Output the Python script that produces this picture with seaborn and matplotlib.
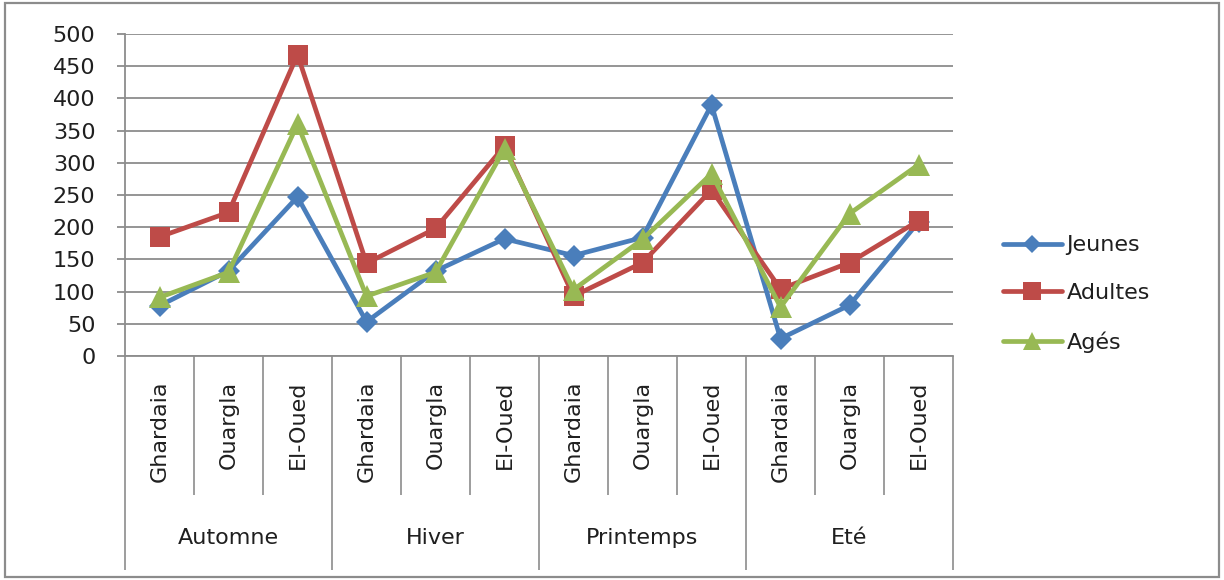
import matplotlib
matplotlib.use("Agg")
import matplotlib.pyplot as plt
from matplotlib.patches import Rectangle
import numpy as np
import pandas as pd
import seaborn as sns

# Data: counts per season and city
seasons = ["Automne", "Hiver", "Printemps", "Eté"]
cities = ["Ghardaia", "Ouargla", "El-Oued"]
jeunes = [78, 132, 247, 53, 132, 182, 156, 184, 390, 27, 79, 208]
adultes = [185, 223, 468, 144, 198, 326, 93, 145, 258, 104, 145, 210]
ages = [91, 130, 360, 93, 130, 322, 103, 181, 283, 76, 221, 297]
series_names = ["Jeunes", "Adultes", "Agés"]
y_ticks = list(range(0, 501, 50))

series_values = {"Jeunes": jeunes, "Adultes": adultes, "Agés": ages}
city_labels = [c for _ in seasons for c in cities]
season_of_point = [s for s in seasons for _ in cities]

rows = []
for name in series_names:
    for i, v in enumerate(series_values[name]):
        rows.append({"pos": i, "valeur": v, "groupe": name,
                     "saison": season_of_point[i], "ville": city_labels[i]})
df = pd.DataFrame(rows)

sns.set_style("white")
plt.rcParams["font.family"] = ["DejaVu Sans"]

W, H = 1224, 580
FS = 16
fig = plt.figure(figsize=(W / 100, H / 100), dpi=100)
fig.patch.set_facecolor("white")

left, right, top, bottom = 125, 953, 34, 356
ax = fig.add_axes([left / W, 1 - bottom / H, (right - left) / W, (bottom - top) / H])

styles = {
    "Jeunes": dict(color="#4A7EBB", marker="D", markersize=11),
    "Adultes": dict(color="#BE4B48", marker="s", markersize=15),
    "Agés": dict(color="#98B954", marker="^", markersize=16),
}
for name in series_names:
    st = styles[name]
    sns.lineplot(data=df[df["groupe"] == name], x="pos", y="valeur", ax=ax,
                 color=st["color"], marker=st["marker"], markersize=st["markersize"],
                 markeredgewidth=0, linewidth=3.4, legend=False, label=name,
                 zorder=3)

grid_color = "#8C8C8C"
text_color = "#1f1f1f"
ax.set_xlim(-0.5, len(city_labels) - 0.5)
ax.set_ylim(0, 500)
ax.set_yticks(y_ticks)
ax.set_yticklabels([str(t) for t in y_ticks], fontsize=FS, color=text_color)
ax.yaxis.grid(True, color=grid_color, linewidth=1.3)
ax.set_axisbelow(True)
ax.tick_params(axis="y", length=5.8, width=1.3, color=grid_color, pad=15.5, left=True)

ax.set_xticks(range(len(city_labels)))
ax.set_xticklabels(city_labels, rotation=90, fontsize=FS, color=text_color)
ax.tick_params(axis="x", length=0, pad=18)
ax.set_xlabel("")
ax.set_ylabel("")

for side in ["top", "right"]:
    ax.spines[side].set_visible(False)
ax.spines["left"].set_color(grid_color)
ax.spines["left"].set_linewidth(1.3)
ax.spines["bottom"].set_color(grid_color)
ax.spines["bottom"].set_linewidth(1.3)

# Multi-level category separators below the axis
axis_h = bottom - top
inner_depth = -(495 - bottom) / axis_h
outer_depth = -(570 - bottom) / axis_h
xt = ax.get_xaxis_transform()
n = len(city_labels)
k = len(cities)
bounds = np.arange(n + 1) - 0.5
inner = [b for i, b in enumerate(bounds) if i % k != 0]
outer = [b for i, b in enumerate(bounds) if i % k == 0]
ax.vlines(inner, inner_depth, 0, transform=xt, colors=grid_color,
          linewidth=1.2, clip_on=False)
ax.vlines(outer, outer_depth, 0, transform=xt, colors=grid_color,
          linewidth=1.2, clip_on=False)

season_y = -(538 - bottom) / axis_h
for j, s in enumerate(seasons):
    ax.text(j * k + (k - 1) / 2, season_y, s, transform=xt, ha="center",
            va="center", fontsize=FS, color=text_color)

# Legend on the right
handles = ax.get_lines()[:len(series_names)]
leg = fig.legend(handles, series_names, loc="center left",
                 bbox_to_anchor=(1003 / W, 1 - 294 / H), frameon=False,
                 fontsize=FS, handlelength=2.65, handletextpad=0.2,
                 labelspacing=1.25, borderpad=0, borderaxespad=0,
                 markerscale=0.85)
for t in leg.get_texts():
    t.set_color(text_color)

# Chart frame
fig.patches.append(Rectangle((5 / W, 3 / H), (1219 - 5) / W, (577 - 3) / H,
                             transform=fig.transFigure, fill=False,
                             edgecolor="#8C8C8C", linewidth=1.6))

fig.savefig("out.png", dpi=100, facecolor="white")
